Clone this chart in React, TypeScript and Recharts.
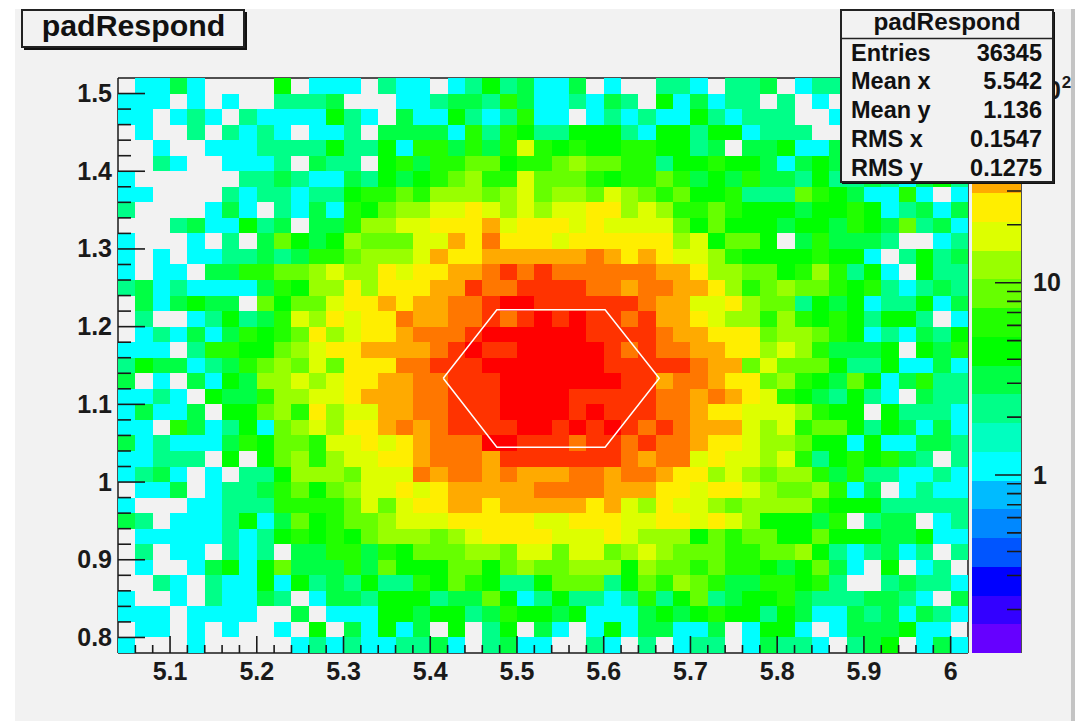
import React from "react";
import {
  ScatterChart,
  Scatter,
  XAxis,
  YAxis,
  ReferenceLine,
} from "recharts";

// ---- data -----------------------------------------------------------------
// Histogram rows, top (y = 1.51) to bottom (y = 0.79); one letter per x bin.
// '.' = empty bin; other letters index into binCounts.
const binRows: string[] = [
  ".ccsc....g.ccc.tcc.ctgtsc" + "cs.c..ttc.tts.ctt" + "t.ctc.t",
  "ccc.c.c..ttts...cctssthsc" + "ctcst.gcsctt.t.c." + ".ts.tc.",
  "cc.ctc.tccccgtc.sccgtcthc" + "c.ctctccgtcttt..c" + "t.ctt.s",
  ".c..t.tctc.cct.sssschthgt" + "tgggtcggtggcttt.." + "ct.stcs",
  "..c..cccttttgttgchhshshyh" + "ghgghhggts.ssgccs" + "gtscs.t",
  "..tc..ccct.stt.ghshhllghh" + "lmllhhtgghggscsgs" + "gstcgts",
  "c......ttstccstgsghlmhhyl" + "llhghhlhsgshsstgt" + "tstcsgt",
  "cc....tcttcttghhlhmmmlmyl" + "mmlymlhlgghtttlhgscchc.c",
  "t....csc.tcschglmmyyYymym" + "yyYYmymhhlhgggsgghgctscs",
  "...tsccgts.sshmmyyYYYayYY" + "YyYyyyylglgggsggshgsltsc",
  "c...c.t.slgsgmlllyyaYoYYY" + "yYYYYYYmygllg.shssst..ct",
  "c.c.ccttstshhlmmmyaYYaaaa" + "aaoaYaYyymhgggghggc.tgts",
  "c.cc.sshhllmymmYyYYaaoror" + "ooooooaaYmmllghmhtgc.gtt",
  "tsctccccshgmmYmYYYaaroorr" + "rrooaooaaYmhlmllhghtctst",
  ".scsgss.lgllyYYaYaaoorRRr" + "rrrrroaayyYmlltgsgcttgcs",
  ".t..ctgtshymYyYYoaaoororR" + "rRrroraaYymmhmhghgtggt.c",
  ".ctcscshghlYmyYYaooorRRRR" + "RRrrrroaaYYYlmmlhgctcstg",
  "ccc.thhgglmyYYaaaaorRrrRR" + "RRRrorooaaYYmymhsssg.gsh",
  "tgssctshlmlylYYYoorrrRRRR" + "RRRrrrrroaalylllgttgccsc",
  "s.c.scgsmmymyYYaaoorrrRRR" + "RRRRrraooaYYlmhgslgcshtt",
  "cctc.gsshmmyyYaaaoorrrRRR" + "RrrrrrooaoaYyhgstgtc.stt",
  "csccs.gglmhYmyyaaoorrrRRR" + "RrRrrrooaYYyyymhgg.gtttc",
  "cc.hsctgclmymYYaoaorrrrRR" + "rRrRroroaaaymyhllgtgscsc",
  "sctcccshgllhyyYyYaoooRRrr" + "rorrorooaYYymmlggcgccsst",
  "ccttt.g.glmhmyyYYaoooarrr" + "rrrroaooyYyymyhtghghst.t",
  "ctsc.c.ttgmmmlyyyoaooaoaa" + "aooaooaYYmymlmmhshttcctc",
  ".ccs.cttshlglmyyYyYaaaaao" + "oooaaaYYyYYymllmhcs.ctcc",
  "c...ccttthhhhlylyYYaaYaaa" + "aaYaymYyymlmmmmhgggttttt",
  "st.ccctgcslghllmyyyYYYYYy" + "yYYYyyYYyYymgggsh.tss.ct",
  ".ccccctctghghglmmmlmyYYYY" + "yyyYymmmglhllgglgggssgcc",
  ".t.cc.tct.sshhshglllmmlyy" + "lyylmymlllhhllmgtctsct.t",
  ".c..csgcglssshslgggllglml" + "lmmmgmllhlhhgsglsc.g.ct.",
  "..tc.tccgcgtstgtthglhgttg" + "llltglhmlhsshhght..tsttc",
  "c..c.tccst.csstgggtsslgct" + "gttcthtgltsgghstttsstc.s",
  "ccc.cccc..s.cccggsggtshgg" + "sgcccsgsghggtgsccstscstc",
  ".cc.c.c..c.g.scgcs.g.tg.s" + "c.cgcssccs.cggc.csssgcc.",
  "c...c.....ctctccttsc.tscc" + "..tc.t.ctt.csttc.tsg.csc",
];
const binCounts: Record<string, number> = {
  c: 1, t: 2, s: 3, g: 4, h: 6, l: 9, m: 12, y: 18, Y: 25, a: 35, o: 50, r: 70, R: 100,
};

const xMin = 5.04;
const xMax = 6.02;
const yMin = 0.78;
const yMax = 1.52;
const zMin = 0.1187;
const zMax = 116;

const paletteBands = [
  "#6600ff", "#3300ff", "#0000ff", "#0055ff", "#0088ff", "#00bbff", "#00ffff",
  "#00ffc0", "#00ff88", "#00ff44", "#00ff00", "#22ff00", "#66ff00", "#99ff00",
  "#ddff00", "#ffee00", "#ffaa00", "#ff7700", "#ff3300", "#ff0000",
];

const xMajorTicks = [5.1, 5.2, 5.3, 5.4, 5.5, 5.6, 5.7, 5.8, 5.9, 6];
const xTicks = [
  5.06, 5.08, 5.1, 5.12, 5.14, 5.16, 5.18, 5.2, 5.22, 5.24, 5.26, 5.28, 5.3, 5.32, 5.34, 5.36,
  5.38, 5.4, 5.42, 5.44, 5.46, 5.48, 5.5, 5.52, 5.54, 5.56, 5.58, 5.6, 5.62, 5.64, 5.66, 5.68,
  5.7, 5.72, 5.74, 5.76, 5.78, 5.8, 5.82, 5.84, 5.86, 5.88, 5.9, 5.92, 5.94, 5.96, 5.98, 6,
];
const yMajorTicks = [0.8, 0.9, 1, 1.1, 1.2, 1.3, 1.4, 1.5];
const yTicks = [
  0.8, 0.82, 0.84, 0.86, 0.88, 0.9, 0.92, 0.94, 0.96, 0.98, 1, 1.02, 1.04, 1.06, 1.08, 1.1,
  1.12, 1.14, 1.16, 1.18, 1.2, 1.22, 1.24, 1.26, 1.28, 1.3, 1.32, 1.34, 1.36, 1.38, 1.4, 1.42,
  1.44, 1.46, 1.48, 1.5,
];
const zTicks = [
  0.2, 0.3, 0.4, 0.5, 0.6, 0.7, 0.8, 0.9, 1, 2, 3, 4, 5, 6, 7, 8, 9, 10, 20, 30, 40, 50, 60,
  70, 80, 90, 100,
];
const zMajorTicks = [1, 10, 100];

const hexagon = [
  { x: 5.415, y: 1.1337 },
  { x: 5.4768, y: 1.2216 },
  { x: 5.6016, y: 1.2216 },
  { x: 5.664, y: 1.1337 },
  { x: 5.6016, y: 1.0449 },
  { x: 5.4768, y: 1.0449 },
  { x: 5.415, y: 1.1337 },
];

const statsTitle = "padRespond";
const statLabels = ["Entries", "Mean x", "Mean y", "RMS x", "RMS y"];
const statValues = ["36345", "5.542", "1.136", "0.1547", "0.1275"];

// ---- derived --------------------------------------------------------------
const binWidth = 0.02;
const binHeight = 0.02;
const bandStep = (Math.log10(zMax) - Math.log10(zMin)) / paletteBands.length;
const bandOf = (z: number) =>
  Math.min(paletteBands.length - 1, Math.floor((Math.log10(z) - Math.log10(zMin)) / bandStep));

type Bin = { x: number; y: number; count: number };
const bins: Bin[] = [];
binRows.forEach((row, r) => {
  row.split("").forEach((ch, c) => {
    if (ch === ".") return;
    bins.push({
      x: xMin + (c + 0.5) * binWidth,
      y: yMax - (r + 0.5) * binHeight,
      count: binCounts[ch],
    });
  });
});

const bandCentres = paletteBands.map((color, i) => ({
  x: 0.5,
  y: Math.pow(10, Math.log10(zMin) + (i + 0.5) * bandStep),
  color,
}));

// tick marks are scatter series so that they are painted over the cells
const isIn = (list: number[], v: number) => list.some((m) => Math.abs(m - v) < 1e-6);
const xTickMarks = xTicks.map((v) => ({ x: v, y: yMin, major: isIn(xMajorTicks, v) }));
const yTickMarks = yTicks.map((v) => ({ x: xMin, y: v, major: isIn(yMajorTicks, v) }));
const zTickMarks = zTicks.map((v) => ({ x: 1, y: v, major: isIn(zMajorTicks, v) }));

// ---- layout ---------------------------------------------------------------
const W = 1075;
const H = 721;
const plotLeft = 118;
const plotRight = 968;
const plotTop = 78;
const plotBottom = 653;
const barLeft = 972;
const barRight = 1021;
const cellW = (plotRight - plotLeft) / binRows[0].length;
const cellH = (plotBottom - plotTop) / binRows.length;
const bandH = (plotBottom - plotTop) / paletteBands.length;
const FONT = "'Liberation Sans', Arial, sans-serif";
const INK = "#1a1a1a";
const TICK_W = 1.6;
const layerStyle: React.CSSProperties = { position: "absolute", left: 0, top: 0 };
const plotMargin = { top: plotTop, left: plotLeft - 60, right: W - plotRight, bottom: H - plotBottom - 40 };
const barMargin = { top: plotTop, left: barLeft, right: W - barRight - 50, bottom: H - plotBottom };

const Cell = (props: any) => {
  const { cx, cy, payload } = props;
  return (
    <rect
      x={cx - cellW / 2}
      y={cy - cellH / 2}
      width={cellW}
      height={cellH}
      fill={paletteBands[bandOf(payload.count)]}
      shapeRendering="crispEdges"
    />
  );
};

const Band = (props: any) => {
  const { cx, cy, payload } = props;
  return (
    <rect
      x={cx - (barRight - barLeft) / 2}
      y={cy - bandH / 2}
      width={barRight - barLeft}
      height={bandH}
      fill={payload.color}
      shapeRendering="crispEdges"
    />
  );
};

const XMark = (props: any) => {
  const { cx, cy, payload } = props;
  return <line x1={cx} x2={cx} y1={cy} y2={cy - (payload.major ? 17 : 8)} stroke={INK} strokeWidth={TICK_W} />;
};
const YMark = (props: any) => {
  const { cx, cy, payload } = props;
  return <line x1={cx} x2={cx + (payload.major ? 27 : 13)} y1={cy} y2={cy} stroke={INK} strokeWidth={TICK_W} />;
};
const ZMark = (props: any) => {
  const { cx, cy, payload } = props;
  return <line x1={cx} x2={cx - (payload.major ? 26 : 14)} y1={cy} y2={cy} stroke={INK} strokeWidth={TICK_W} />;
};

const XTick = (props: any) => {
  const { x, y, payload } = props;
  if (!isIn(xMajorTicks, payload.value)) return <g />;
  return (
    <text x={x} y={y + 27} textAnchor="middle" fontFamily={FONT} fontWeight="bold" fontSize={25} fill={INK}>
      {String(payload.value)}
    </text>
  );
};

const YTick = (props: any) => {
  const { x, y, payload } = props;
  if (!isIn(yMajorTicks, payload.value)) return <g />;
  return (
    <text x={x - 6} y={y + 8.5} textAnchor="end" fontFamily={FONT} fontWeight="bold" fontSize={25} fill={INK}>
      {String(payload.value)}
    </text>
  );
};

const ZTick = (props: any) => {
  const { x, y, payload } = props;
  const v = payload.value;
  if (!isIn(zMajorTicks, v)) return <g />;
  return (
    <text x={x + 12} y={y + 8.5} fontFamily={FONT} fontWeight="bold" fontSize={25} fill={INK}>
      {v === 100 ? "10" : String(v)}
      {v === 100 && (
        <tspan dy={-11} dx={1} fontSize={17}>
          2
        </tspan>
      )}
    </text>
  );
};

const Overlay = () => (
  <svg width={W} height={H} style={layerStyle}>
    {/* title box */}
    <rect x={24} y={12} width={223} height={38} fill="#111" />
    <rect x={22} y={10} width={222} height={37} fill="#f2f2f2" stroke="#222" strokeWidth={2} />
    <text x={133.5} y={36} textAnchor="middle" fontFamily={FONT} fontWeight="bold" fontSize={30.3} fill="#111">
      padRespond
    </text>
    {/* stats box */}
    <rect x={842} y={12} width={213} height={172} fill="#111" />
    <rect x={841} y={10} width={212} height={172} fill="#f2f2f2" stroke="#222" strokeWidth={2} />
    <line x1={841} x2={1053} y1={38.5} y2={38.5} stroke="#222" strokeWidth={1.5} />
    <text x={947} y={30} textAnchor="middle" fontFamily={FONT} fontWeight="bold" fontSize={24.3} fill="#111">
      {statsTitle}
    </text>
    {statLabels.map((label, i) => (
      <text key={label} x={851} y={60.5 + i * 28.9} fontFamily={FONT} fontWeight="bold" fontSize={23.5} fill="#111">
        {label}
      </text>
    ))}
    {statValues.map((value, i) => (
      <text key={value} x={1042} y={60.5 + i * 28.9} textAnchor="end" fontFamily={FONT} fontWeight="bold" fontSize={23.5} fill="#111">
        {value}
      </text>
    ))}
  </svg>
);

export default function App() {
  return (
    <div style={{ position: "absolute", left: 0, top: 0, width: W, height: H, background: "#fff", overflow: "hidden" }}>
      <div style={{ position: "absolute", left: 15, top: 9, width: W - 15 - 4, height: H - 9, background: "#f2f2f2" }} />
      <div style={{ position: "absolute", left: W - 4, top: 9, width: 4, height: H - 9, background: "#c4c4c4" }} />

      {/* histogram */}
      <div style={layerStyle}>
        <ScatterChart width={W} height={H} margin={plotMargin}>
          <XAxis
            type="number"
            dataKey="x"
            domain={[xMin, xMax]}
            ticks={xTicks}
            interval={0}
            height={40}
            tickSize={0}
            tickMargin={0}
            tickLine={false}
            tick={<XTick />}
            axisLine={{ stroke: INK, strokeWidth: 1.5 }}
            allowDataOverflow
          />
          <YAxis
            type="number"
            dataKey="y"
            domain={[yMin, yMax]}
            ticks={yTicks}
            interval={0}
            width={60}
            tickSize={0}
            tickMargin={0}
            tickLine={false}
            tick={<YTick />}
            axisLine={{ stroke: INK, strokeWidth: 1.5 }}
            allowDataOverflow
          />
          <ReferenceLine y={yMax} stroke={INK} strokeWidth={1.5} ifOverflow="visible" />
          <ReferenceLine x={xMax} stroke={INK} strokeWidth={1.5} ifOverflow="visible" />
          <Scatter data={bins} shape={<Cell />} isAnimationActive={false} />
          <Scatter
            data={hexagon}
            shape={() => <g />}
            line={{ stroke: "#ffffff", strokeWidth: 1.5 }}
            isAnimationActive={false}
          />
          <Scatter data={xTickMarks} shape={<XMark />} isAnimationActive={false} />
          <Scatter data={yTickMarks} shape={<YMark />} isAnimationActive={false} />
        </ScatterChart>
      </div>

      {/* colour bar */}
      <div style={layerStyle}>
        <ScatterChart width={W} height={H} margin={barMargin}>
          <XAxis type="number" dataKey="x" domain={[0, 1]} hide height={0} />
          <YAxis
            type="number"
            dataKey="y"
            orientation="right"
            scale="log"
            domain={[zMin, zMax]}
            ticks={zTicks}
            interval={0}
            width={50}
            tickSize={0}
            tickMargin={0}
            tickLine={false}
            tick={<ZTick />}
            axisLine={{ stroke: INK, strokeWidth: 1.5 }}
            allowDataOverflow
          />
          <Scatter data={bandCentres} shape={<Band />} isAnimationActive={false} />
          <Scatter data={zTickMarks} shape={<ZMark />} isAnimationActive={false} />
        </ScatterChart>
      </div>

      <Overlay />
    </div>
  );
}
